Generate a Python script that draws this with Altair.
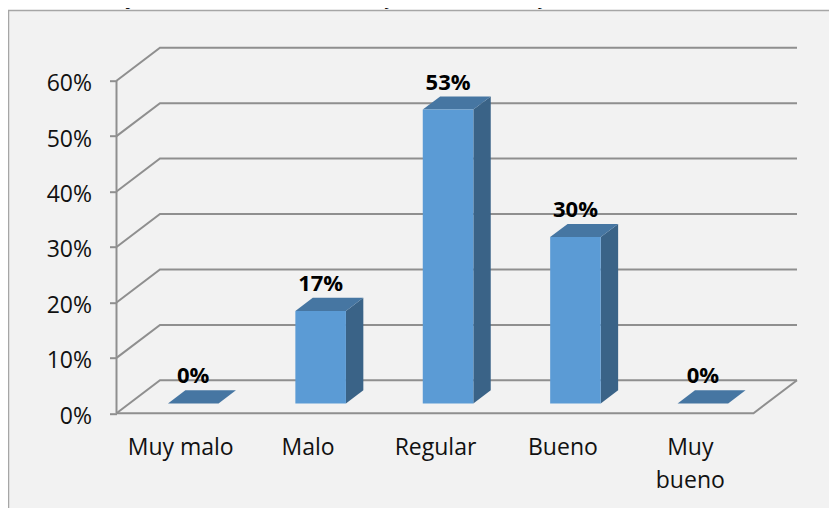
import json
import altair as alt
import pandas as pd

# ---- values ----
categories = ["Muy malo", "Malo", "Regular", "Bueno", ["Muy", "bueno"]]
values = [0.0, 0.1667, 0.53, 0.30, 0.0]
y_ticks = [0.0, 0.1, 0.2, 0.3, 0.4, 0.5, 0.6]
title_text = "actividades y tareas se encuentren verificadas con sus fuentes"

# ---- pseudo-3D projection, in data units ----
DX = 0.3413     # horizontal shift of the full floor depth (category units)
DY = 0.0595     # vertical shift of the full floor depth (value units)
Z0, Z1 = 0.3, 0.7   # bar front / back within the floor depth
BAR_W = 0.397
GAP = (1 - BAR_W) / 2
N = len(categories)

FONT = "Open Sans"
GRID = "#8f8f8f"
INK = "#111111"

def px(x, z):
    return x + z * DX

def py(v, z):
    return v + z * DY

# grid lines
grid_rows = []
for t in y_ticks:
    grid_rows.append({"tick": t, "o": 0, "x": px(0, 0), "y": py(t, 0)})
    grid_rows.append({"tick": t, "o": 1, "x": px(0, 1), "y": py(t, 1)})
    grid_rows.append({"tick": t, "o": 2, "x": px(N, 1), "y": py(t, 1)})
floor_rows = [
    {"tick": "f", "o": 0, "x": px(0, 0), "y": py(0, 0)},
    {"tick": "f", "o": 1, "x": px(N, 0), "y": py(0, 0)},
    {"tick": "f", "o": 2, "x": px(N, 1), "y": py(0, 1)},
]
wall_rows = [
    {"tick": "w", "o": 0, "x": px(0, 0), "y": py(0, 0)},
    {"tick": "w", "o": 1, "x": px(0, 0), "y": py(y_ticks[-1], 0)},
]

front_rows, top_rows, side_rows, label_rows = [], [], [], []
for i, v in enumerate(values):
    x0 = i + GAP
    x1 = x0 + BAR_W
    xa, xb = px(x0, Z0), px(x1, Z0)
    xd, xc = px(x0, Z1), px(x1, Z1)
    yf, yb = py(v, Z0), py(v, Z1)
    base_f, base_b = py(0, Z0), py(0, Z1)
    if v > 0:
        front_rows.append({"x": xa, "x2": xb, "y": base_f, "y2": yf})
        side_rows.append({"bar": i, "x": xb, "y": base_f, "y2": yf})
        side_rows.append({"bar": i, "x": xc, "y": base_b, "y2": yb})
    top_rows.extend([
        {"bar": i, "x": xa, "y": yf, "y2": yf},
        {"bar": i, "x": xd, "y": yf, "y2": yb},
        {"bar": i, "x": xb, "y": yf, "y2": yb},
        {"bar": i, "x": xc, "y": yb, "y2": yb},
    ])
    label_rows.append({"x": (xa + xb) / 2, "y": yf, "v": v})

# ---- scales and axes ----
x_scale = alt.Scale(domain=[0, N + DX], range="width", nice=False, zero=False)
y_scale = alt.Scale(domain=[0, y_ticks[-1] + DY], nice=False, zero=False)

label_expr = json.dumps(categories, ensure_ascii=False) + "[datum.value - 0.5]"
x_enc = alt.X(
    "x:Q", scale=x_scale,
    axis=alt.Axis(
        values=[i + 0.5 for i in range(N)], labelExpr=label_expr, title=None, zindex=1,
        domain=False, ticks=False, grid=False, labelFont=FONT, labelFontSize=23,
        labelColor=INK, labelPadding=23, labelLineHeight=33,
        labelAngle=0, labelOverlap=False, labelFlush=False, labelBaseline="top",
    ),
)
y_enc = alt.Y(
    "y:Q", scale=y_scale,
    axis=alt.Axis(
        values=y_ticks, format=".0%", title=None, domain=False, grid=False, zindex=1,
        tickColor=GRID, tickSize=7, tickWidth=2, labelFont=FONT, labelFontSize=23,
        labelColor=INK, labelPadding=18, labelOffset=3,
    ),
)
y2 = alt.Y2("y2:Q")

def lines(rows):
    return alt.Chart(pd.DataFrame(rows)).mark_line(color=GRID, strokeWidth=2, clip=False).encode(
        x=x_enc, y=y_enc, detail="tick:N", order="o:Q"
    )

panel = alt.Chart(pd.DataFrame({"a": [0]})).mark_rect(
    fill="#f2f2f2", stroke="#a6a6a6", strokeWidth=1.5, clip=False
).encode(
    x=alt.value(-108), x2=alt.value(760), y=alt.value(-37.2), y2=alt.value(520)
)

front = alt.Chart(pd.DataFrame(front_rows)).mark_rect(color="#5b9bd5").encode(
    x=x_enc, x2=alt.X2("x2:Q"), y=y_enc, y2=y2
)
side = alt.Chart(pd.DataFrame(side_rows)).mark_area(color="#3a6387", clip=False).encode(
    x=x_enc, y=y_enc, y2=y2, detail="bar:N"
)
top = alt.Chart(pd.DataFrame(top_rows)).mark_area(color="#4676a2", clip=False).encode(
    x=x_enc, y=y_enc, y2=y2, detail="bar:N"
)
labels = alt.Chart(pd.DataFrame(label_rows)).mark_text(
    font=FONT, fontSize=22, fontWeight="bold", color="#000000", baseline="alphabetic", dy=-20
).encode(x=x_enc, y=y_enc, text=alt.Text("v:Q", format=".0%"))

title = alt.Chart(pd.DataFrame({"t": [title_text]})).mark_text(
    font=FONT, fontSize=22, fontStyle="italic", color=INK, align="left",
    baseline="alphabetic", clip=False
).encode(x=alt.value(-103.5), y=alt.value(-44.2), text="t:N")

chart = alt.layer(
    panel, title, lines(grid_rows), lines(floor_rows), lines(wall_rows),
    side, top, front, labels,
).properties(
    width=680.5, height=365.6,
    padding={"left": 108.5, "top": 39.7, "right": 32, "bottom": 94.7},
    autosize=alt.AutoSizeParams(type="none"),
    background="#ffffff",
).configure_view(stroke=None)

chart.save("out.html", embed_options={"renderer": "svg", "actions": False})
